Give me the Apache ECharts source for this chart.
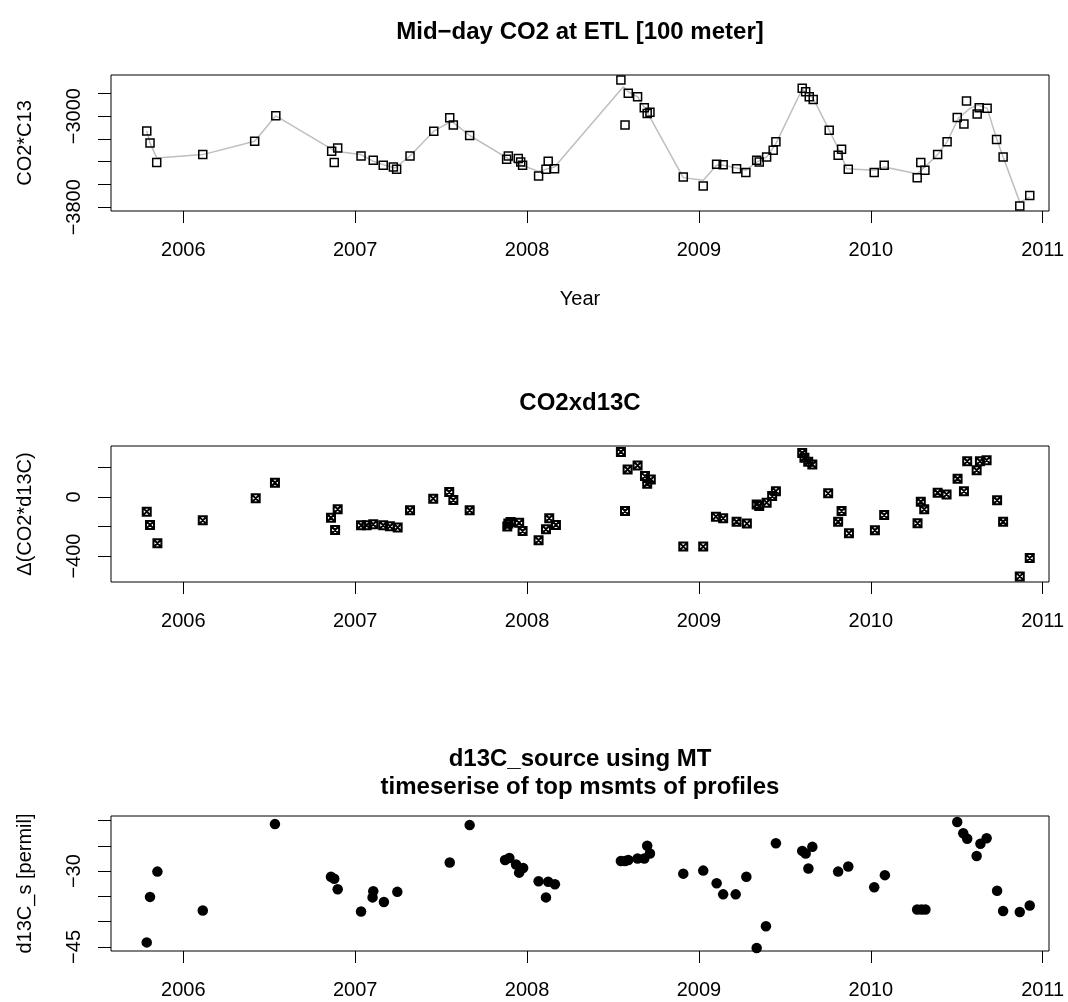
<!DOCTYPE html>
<html>
<head>
<meta charset="utf-8">
<title>Mid-day CO2 at ETL</title>
<script src="https://cdn.jsdelivr.net/npm/echarts@6/dist/echarts.min.js"></script>
<style>
  html, body { margin: 0; padding: 0; background: #fff; }
  #main { width: 1068px; height: 1002px; }
</style>
</head>
<body>
<div id="main"></div>
<script>
// tick values
var yearTicks = [2006, 2007, 2008, 2009, 2010, 2011]
var co2Ticks = [-3800, -3600, -3400, -3200, -3000, -2800]
var co2Labels = [-3800, -3000]
var deltaTicks = [-400, -200, 0, 200]
var deltaLabels = [-400, 0]
var d13Ticks = [-45, -40, -35, -30, -25, -20]
var d13Labels = [-45, -30]

// panel 1: CO2*C13 samples
var co2Years = [2005.787, 2005.806, 2005.845, 2006.113, 2006.415, 2006.538, 2006.863, 2006.898, 2006.878,
  2007.034, 2007.105, 2007.163, 2007.222, 2007.241, 2007.319, 2007.457, 2007.550, 2007.571, 2007.666,
  2007.891, 2007.881, 2007.949, 2007.963, 2007.974, 2008.067, 2008.123, 2008.110, 2008.160,
  2008.546, 2008.570, 2008.589, 2008.643, 2008.682, 2008.699, 2008.715, 2008.909, 2009.025,
  2009.103, 2009.141, 2009.219, 2009.273, 2009.336, 2009.351, 2009.394, 2009.432, 2009.448,
  2009.601, 2009.621, 2009.642, 2009.665, 2009.758, 2009.830, 2009.810, 2009.869,
  2010.020, 2010.078, 2010.270, 2010.291, 2010.315, 2010.389, 2010.444, 2010.503, 2010.542,
  2010.557, 2010.619, 2010.631, 2010.677, 2010.732, 2010.770, 2010.867, 2010.925]
var co2Values = [-3130, -3235, -3408, -3338, -3220, -2997, -3308, -3279, -3408,
  -3350, -3388, -3432, -3447, -3467, -3350, -3132, -3015, -3079, -3170,
  -3350, -3379, -3373, -3403, -3432, -3526, -3396, -3467, -3461,
  -2683, -3079, -2800, -2830, -2927, -2976, -2967, -3535, -3614,
  -3423, -3426, -3461, -3496, -3388, -3403, -3359, -3300, -3226,
  -2756, -2786, -2830, -2853, -3123, -3291, -3344, -3467,
  -3496, -3432, -3540, -3408, -3476, -3338, -3226, -3012, -3070,
  -2868, -2982, -2927, -2932, -3205, -3359, -3790, -3696]

// panel 1: grey smoothed curve
var co2LineYears = [2005.787, 2005.806, 2005.845, 2006.113, 2006.415, 2006.538, 2006.883, 2007.034,
  2007.105, 2007.163, 2007.232, 2007.319, 2007.457, 2007.561, 2007.666, 2007.891, 2007.969, 2008.067,
  2008.160, 2008.560, 2008.589, 2008.643, 2008.692, 2008.909, 2009.025, 2009.103, 2009.141, 2009.219,
  2009.273, 2009.336, 2009.394, 2009.448, 2009.601, 2009.665, 2009.758, 2009.820, 2009.859, 2010.020,
  2010.078, 2010.270, 2010.315, 2010.389, 2010.444, 2010.509, 2010.577, 2010.625, 2010.677, 2010.732,
  2010.770, 2010.867, 2010.925]
var co2LineValues = [-3130, -3235, -3367, -3338, -3220, -2997, -3308, -3338,
  -3396, -3426, -3455, -3350, -3132, -3044, -3170, -3373, -3432, -3485,
  -3447, -2742, -2786, -2830, -2947, -3540, -3564, -3432, -3432, -3455,
  -3476, -3403, -3359, -3241, -2762, -2844, -3123, -3314, -3461, -3476,
  -3447, -3505, -3447, -3338, -3226, -3021, -2932, -2903, -2932, -3197,
  -3359, -3755, -3711]

// panel 2: delta(CO2*d13C)
var deltaYears = [2005.787, 2005.806, 2005.849, 2006.113, 2006.421, 2006.533, 2006.859, 2006.898, 2006.883,
  2007.034, 2007.067, 2007.105, 2007.163, 2007.202, 2007.247, 2007.319, 2007.454, 2007.547, 2007.571,
  2007.666, 2007.891, 2007.885, 2007.904, 2007.954, 2007.974, 2008.067, 2008.110, 2008.129, 2008.168,
  2008.546, 2008.570, 2008.585, 2008.643, 2008.686, 2008.699, 2008.720, 2008.909, 2009.025,
  2009.099, 2009.141, 2009.219, 2009.279, 2009.336, 2009.351, 2009.394, 2009.426, 2009.448,
  2009.601, 2009.614, 2009.636, 2009.660, 2009.752, 2009.830, 2009.810, 2009.873,
  2010.024, 2010.078, 2010.272, 2010.291, 2010.311, 2010.389, 2010.441, 2010.505, 2010.542,
  2010.561, 2010.616, 2010.635, 2010.674, 2010.735, 2010.770, 2010.867, 2010.925]
var deltaValues = [-99, -189, -313, -158, -9, 97, -140, -83, -223,
  -191, -191, -185, -191, -198, -207, -90, -11, 34, -20,
  -90, -180, -200, -169, -175, -230, -293, -218, -144, -189,
  306, -95, 187, 214, 142, 90, 119, -336, -336,
  -133, -144, -167, -180, -50, -61, -38, 7, 40,
  299, 266, 239, 221, 25, -95, -167, -245,
  -225, -122, -178, -32, -83, 29, 18, 124, 40,
  243, 182, 243, 250, -22, -167, -538, -414]

// panel 3: d13C source
var d13Years = [2005.787, 2005.806, 2005.849, 2006.113, 2006.533, 2006.859, 2006.878, 2006.898,
  2007.034, 2007.105, 2007.101, 2007.167, 2007.245, 2007.550, 2007.666, 2007.872, 2007.897,
  2007.936, 2007.977, 2007.954, 2008.067, 2008.110, 2008.123, 2008.162,
  2008.546, 2008.570, 2008.589, 2008.643, 2008.682, 2008.699, 2008.715, 2008.909, 2009.025,
  2009.103, 2009.141, 2009.214, 2009.276, 2009.336, 2009.390, 2009.448, 2009.601, 2009.621,
  2009.660, 2009.637, 2009.810, 2009.869, 2010.020, 2010.082, 2010.270, 2010.295, 2010.318,
  2010.503, 2010.538, 2010.561, 2010.616, 2010.638, 2010.674, 2010.735, 2010.770, 2010.867, 2010.925]
var d13Values = [-44.1, -35.1, -30.1, -37.8, -20.7, -31.1, -31.5, -33.6,
  -38.0, -34.0, -35.2, -36.1, -34.1, -28.3, -20.9, -27.8, -27.4,
  -28.7, -29.4, -30.3, -32.0, -35.2, -32.1, -32.6,
  -28.0, -28.0, -27.8, -27.5, -27.5, -25.0, -26.5, -30.5, -29.9,
  -32.4, -34.6, -34.6, -31.1, -45.2, -40.9, -24.5, -26.0, -26.5,
  -25.2, -29.5, -30.1, -29.1, -33.2, -30.8, -37.6, -37.6, -37.6,
  -20.3, -22.5, -23.6, -27.0, -24.6, -23.5, -33.9, -37.9, -38.1, -36.8]

function zip(xs, ys) {
  return xs.map(function (x, i) { return [x, ys[i]] })
}

// R style minus sign
function minus(v) {
  return String(v).replace('-', '\u2212')
}

var FONT = '"Liberation Sans", Arial, Helvetica, sans-serif'
var grids = [
  { left: 111, right: 19, top: 75, height: 136 },
  { left: 111, right: 19, top: 446, height: 136 },
  { left: 111, right: 19, top: 816, height: 135 }
]

function makeXAxis(idx, name) {
  return {
    type: 'value',
    gridIndex: idx,
    min: 2005.579,
    max: 2011.037,
    name: name || '',
    nameLocation: 'middle',
    nameGap: 78,
    nameTextStyle: { fontFamily: FONT, fontSize: 20, color: '#000' },
    axisLine: { show: false, onZero: false },
    axisTick: { customValues: yearTicks, length: 12, lineStyle: { color: '#000', width: 1 } },
    axisLabel: {
      customValues: yearTicks,
      fontFamily: FONT,
      fontSize: 20,
      color: '#000',
      margin: 29,
      formatter: function (v) { return String(v) }
    },
    splitLine: { show: false }
  }
}

function makeYAxis(idx, min, max, ticks, labels, name) {
  return {
    type: 'value',
    gridIndex: idx,
    min: min,
    max: max,
    name: name,
    nameLocation: 'middle',
    nameGap: 76,
    nameTextStyle: { fontFamily: FONT, fontSize: 20, color: '#000' },
    axisLine: { show: false, onZero: false },
    axisTick: { customValues: ticks, length: 13, lineStyle: { color: '#000', width: 1 } },
    axisLabel: {
      customValues: labels,
      rotate: 90,
      fontFamily: FONT,
      fontSize: 20,
      color: '#000',
      margin: 27,
      formatter: minus
    },
    splitLine: { show: false }
  }
}

var boxX = 'path://M0,0L10,0L10,10L0,10Z M0,0L10,10 M10,0L0,10'

function titleText(y, text) {
  return {
    type: 'text', x: 580, y: y,
    style: { text: text, fontFamily: FONT, fontSize: 24, fontWeight: 'bold', fill: '#000', textAlign: 'center', textVerticalAlign: 'middle' }
  }
}

var option = {
  animation: false,
  backgroundColor: '#fff',
  grid: grids.map(function (g) {
    return Object.assign({ show: true, borderColor: '#000', borderWidth: 1, backgroundColor: 'transparent' }, g)
  }),
  xAxis: [makeXAxis(0, 'Year'), makeXAxis(1), makeXAxis(2)],
  yAxis: [
    makeYAxis(0, -3833, -2639, co2Ticks, co2Labels, 'CO2*C13'),
    makeYAxis(1, -576, 346, deltaTicks, deltaLabels, '\u0394(CO2*d13C)'),
    makeYAxis(2, -45.8, -19.1, d13Ticks, d13Labels, 'd13C_s [permil]')
  ],
  graphic: [
    titleText(32, 'Mid\u2212day CO2 at ETL [100 meter]'),
    titleText(403, 'CO2xd13C'),
    titleText(759, 'd13C_source using MT'),
    titleText(787, 'timeserise of top msmts of profiles')
  ],
  series: [
    {
      type: 'line',
      xAxisIndex: 0,
      yAxisIndex: 0,
      data: zip(co2LineYears, co2LineValues),
      showSymbol: false,
      lineStyle: { color: '#bebebe', width: 1.5 },
      z: 1
    },
    {
      type: 'scatter',
      xAxisIndex: 0,
      yAxisIndex: 0,
      data: zip(co2Years, co2Values),
      symbol: 'rect',
      symbolSize: 8,
      itemStyle: { color: 'transparent', borderColor: '#000', borderWidth: 1.5, opacity: 1 },
      z: 2
    },
    {
      type: 'scatter',
      xAxisIndex: 1,
      yAxisIndex: 1,
      data: zip(deltaYears, deltaValues),
      symbol: boxX,
      symbolSize: 8,
      itemStyle: { color: 'transparent', borderColor: '#000', borderWidth: 2, opacity: 1 }
    },
    {
      type: 'scatter',
      xAxisIndex: 2,
      yAxisIndex: 2,
      data: zip(d13Years, d13Values),
      symbol: 'circle',
      symbolSize: 10.5,
      itemStyle: { color: '#000', opacity: 1 }
    }
  ]
}

var myChart = echarts.init(document.getElementById('main'))
myChart.setOption(option)
</script>
</body>
</html>
